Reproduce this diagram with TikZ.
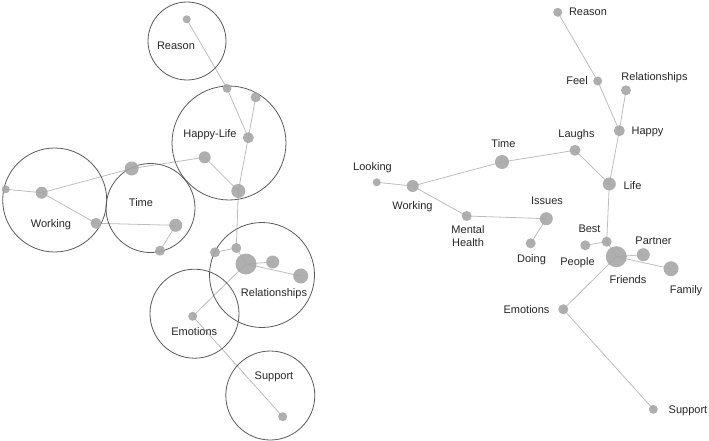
\documentclass[tikz,border=0pt]{standalone}
\usepackage{fontspec}
\setmainfont{Liberation Sans}
\usepackage{xcolor}
\usetikzlibrary{backgrounds}
\definecolor{blobgray}{HTML}{A6A6A6}
\definecolor{linkgray}{HTML}{BDBDBD}
\definecolor{ringgray}{HTML}{5A5A5A}
\definecolor{inkgray}{HTML}{262626}

\begin{document}
\begin{tikzpicture}[x=1pt, y=-1pt,
  every node/.style={font=\fontsize{11}{13.3}\selectfont, text=inkgray, align=center},
  blob/.style={circle, fill=blobgray, fill opacity=0.9, inner sep=0pt, minimum size=#1},
  blob/.default=9pt,
  word/.style={inner sep=0pt, text height=8pt, text depth=0pt},
  ring/.style={circle, draw=ringgray, line width=0.8pt, inner sep=0pt, minimum size=#1},
  link/.style={draw=linkgray, line width=0.8pt}]
  \useasboundingbox (0,0) rectangle (709,441);

  % clusters
  \node[ring=78pt]  (cReason)  at (187,41)    {};
  \node[ring=114pt] (cHappy)   at (229,143)   {};
  \node[ring=104pt] (cWorking) at (54.7,200)  {};
  \node[ring=89pt]  (cTime)    at (150.5,208) {};
  \node[ring=105pt] (cRel)     at (262,275)   {};
  \node[ring=89pt]  (cEmo)     at (194.5,313.7) {};
  \node[ring=89pt]  (cSup)     at (270.3,395.5) {};
  \node[word] (cReasonT)  at (176,45.7)  {Reason};
  \node[word] (cHappyT)   at (210,133.3) {Happy-Life};
  \node[word] (cWorkingT) at (51,223.3)  {Working};
  \node[word] (cTimeT)    at (141,202)   {Time};
  \node[word] (cRelT)     at (274,292.3) {Relationships};
  \node[word] (cEmoT)     at (194.3,331.3) {Emotions};
  \node[word] (cSupT)     at (274,375.7) {Support};

  % left graph
  \node[blob=8pt]  (lReason)  at (186.7,19.3) {};
  \node[blob]      (lFeel)    at (227,88.3)   {};
  \node[blob=10pt] (lRel)     at (255.7,97.3) {};
  \node[blob=11pt] (lHappy)   at (248.3,137.7) {};
  \node[blob=12pt] (lLaughs)  at (204.7,157.3) {};
  \node[blob=14pt] (lLife)    at (238.3,191)  {};
  \node[blob=14pt] (lTime)    at (131.7,168.5) {};
  \node[blob=12pt] (lWorking) at (41.7,192.7) {};
  \node[blob=8pt]  (lLooking) at (5.7,189.3)  {};
  \node[blob=11pt] (lMental)  at (96,223.3)   {};
  \node[blob=13pt] (lIssues)  at (175.7,225.3) {};
  \node[blob=10pt] (lDoing)   at (160,250.7)  {};
  \node[blob=10pt] (lBest)    at (236.3,248)  {};
  \node[blob=10pt] (lPeople)  at (215,252.3)  {};
  \node[blob=21pt] (lFriends) at (246,264)    {};
  \node[blob=13pt] (lPartner) at (272.7,262)  {};
  \node[blob=15pt] (lFamily)  at (300.7,276)  {};
  \node[blob]      (lEmo)     at (192.7,316.3) {};
  \node[blob]      (lSup)     at (282.7,416.7) {};

  % right graph
  \node[blob]      (rReason)  at (557.7,12.3) {};
  \node[blob]      (rFeel)    at (597.7,81)   {};
  \node[blob=10pt] (rRel)     at (626,90.3)   {};
  \node[blob=11pt] (rHappy)   at (619.3,130.7) {};
  \node[blob=11pt] (rLaughs)  at (575,150.3)  {};
  \node[blob=14pt] (rTime)    at (502,162)    {};
  \node[blob=8pt]  (rLooking) at (376.7,182.3) {};
  \node[blob=12pt] (rWorking) at (412.7,186)  {};
  \node[blob=13pt] (rLife)    at (609.3,184)  {};
  \node[blob=10pt] (rMental)  at (466.7,216)  {};
  \node[blob=13pt] (rIssues)  at (546.3,218.7) {};
  \node[blob=10pt] (rDoing)   at (530.7,243.3) {};
  \node[blob=10pt] (rBest)    at (606.7,241.7) {};
  \node[blob=10pt] (rPeople)  at (585.3,245.3) {};
  \node[blob=21pt] (rFriends) at (616.3,256.7) {};
  \node[blob=13pt] (rPartner) at (643.3,254.7) {};
  \node[blob=15pt] (rFamily)  at (671,268.7)  {};
  \node[blob=10pt] (rEmo)     at (563.3,309.3) {};
  \node[blob]      (rSup)     at (653.3,409.3) {};

  \node[word] (rReasonT)  at (588,12)    {Reason};
  \node[word] (rFeelT)    at (577,81)    {Feel};
  \node[word] (rRelT)     at (654.5,77)  {Relationships};
  \node[word] (rHappyT)   at (647.5,131) {Happy};
  \node[word] (rLaughsT)  at (576.5,134) {Laughs};
  \node[word] (rTimeT)    at (503.5,143) {Time};
  \node[word] (rLookingT) at (372.5,166) {Looking};
  \node[word] (rWorkingT) at (412.5,205) {Working};
  \node[word] (rLifeT)    at (632.5,185) {Life};
  \node[inner sep=0pt, anchor=north] (rMentalT) at (468,225) {Mental\\Health};
  \node[word] (rIssuesT)  at (547,200)   {Issues};
  \node[word] (rDoingT)   at (531.5,258) {Doing};
  \node[word] (rBestT)    at (589.5,228) {Best};
  \node[word] (rPeopleT)  at (577.5,261) {People};
  \node[word] (rFriendsT) at (628,279)   {Friends};
  \node[word] (rPartnerT) at (653.5,240) {Partner};
  \node[word] (rFamilyT)  at (686,289)   {Family};
  \node[word] (rEmoT)     at (526.5,309) {Emotions};
  \node[word] (rSupT)     at (688,409)   {Support};

  \begin{scope}[on background layer]
    \foreach \s in {l,r} {
      \foreach \a/\b in {Reason/Feel, Feel/Happy, Rel/Happy, Happy/Life,
          Laughs/Life, Time/Laughs, Working/Time, Looking/Working,
          Working/Mental, Mental/Issues, Issues/Doing, Life/Best,
          Best/People, Best/Friends, Friends/Partner, Friends/Family,
          Friends/Emo, Emo/Sup}
        \draw[link] (\s\a.center) -- (\s\b.center);
    }
  \end{scope}
\end{tikzpicture}
\end{document}
